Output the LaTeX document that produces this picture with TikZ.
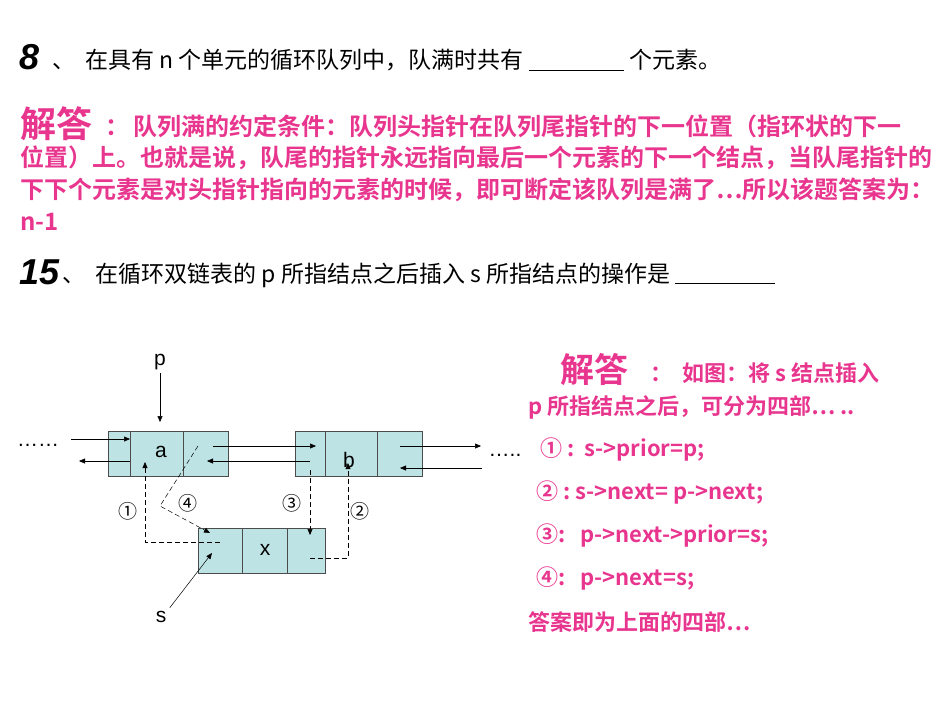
\documentclass[tikz,border=0pt]{standalone}
\usepackage{fontspec}
\setmainfont{Liberation Sans}
\newfontfamily\cjk{Noto Sans CJK SC}
\newfontfamily\cjkb{Noto Sans CJK SC Bold}
\usetikzlibrary{arrows.meta}
\definecolor{pk}{HTML}{E8358E}
\definecolor{cell}{HTML}{BEE3E5}
\begin{document}
\begin{tikzpicture}[x=1pt,y=-1pt,
  box/.style={draw=black!70,fill=cell,line width=0.8pt},
  ptr/.style={-{Triangle[length=6pt,width=5pt]},line width=0.5pt},
  dptr/.style={ptr,dashed,dash pattern=on 5pt off 3pt},
  lab/.style={font=\fontsize{21}{21}\selectfont},
  circ/.style={font=\cjk\fontsize{19}{19}\selectfont},
  q/.style={anchor=west,inner sep=0pt,font=\cjk\fontsize{23}{23}\selectfont},
  ans/.style={anchor=west,inner sep=0pt,text=pk,font=\cjkb\fontsize{24}{24}\selectfont},
  ra/.style={anchor=west,inner sep=0pt,text=pk,font=\cjkb\fontsize{22}{22}\selectfont},
  big/.style={anchor=west,font=\fontsize{36}{36}\selectfont\bfseries\itshape}]
\useasboundingbox (0,0) rectangle (950,713);
% top texts
\node[big] (n8) at (16,57) {8};
\node[q] (q8) at (52,60) {、\ \ 在具有 n 个单元的循环队列中，队满时共有 \underline{\hspace{95pt}} 个元素。};
\node[anchor=west,inner sep=0pt,text=pk,font=\cjkb\fontsize{36}{36}\selectfont\itshape] (j1) at (20,124) {解答};
\node[ans] (a0) at (105,126) {：\,队列满的约定条件：队列头指针在队列尾指针的下一位置（指环状的下一};
\node[ans] (a1) at (20,158) {位置）上。也就是说，队尾的指针永远指向最后一个元素的下一个结点，当队尾指针的};
\node[ans] (a2) at (20,190) {下下个元素是对头指针指向的元素的时候，即可断定该队列是满了…所以该题答案为：};
\node[ans] (a3) at (20,222) {n-1};
\node[big] (n15) at (16,272) {15};
\node[q] (q15) at (62,275) {、\ \ 在循环双链表的 p 所指结点之后插入 s 所指结点的操作是 \underline{\hspace{100pt}}};
% right answer
\node[anchor=west,inner sep=0pt,text=pk,font=\cjkb\fontsize{34}{34}\selectfont\itshape] (j2) at (560,370) {解答};
\node[ra] (r0) at (650,373) {：\ \ 如图：将 s 结点插入};
\node[ra] (r1) at (528,407) {p 所指结点之后，可分为四部… ..};
\node[ra] (r2) at (540,449) {① :\ \ s->prior=p;};
\node[ra] (r3) at (536,492) {② :\ s->next= p->next;};
\node[ra] (r4) at (536,535) {③:\ \ \ p->next->prior=s;};
\node[ra] (r5) at (536,578) {④:\ \ \ p->next=s;};
\node[ra] (r6) at (528,622) {答案即为上面的四部…};
% boxes
\draw[box] (108,431) rectangle (228,476); \draw[black!70,line width=0.8pt] (130,431)--(130,476) (183,431)--(183,476);
\draw[box] (295,431) rectangle (422,476); \draw[black!70,line width=0.8pt] (325,431)--(325,476) (377,431)--(377,476);
\draw[box] (198,528) rectangle (325,573); \draw[black!70,line width=0.8pt] (242,528)--(242,573) (287,528)--(287,573);
\node[lab] (la) at (161,452) {a};
\node[lab] (lb) at (349,460) {b};
\node[lab] (lx) at (265,550) {x};
\node[lab] (p) at (160,362) {p};
\node[lab] (s) at (161,617) {s};
\node[lab] (dl) at (38,445) {……};
\node[lab] (dr) at (505,455) {…..};
\coordinate (pt) at (160,422);
\draw[ptr] (p.south) -- (pt);
\coordinate (l1) at (71,439); \coordinate (l2) at (130,439);
\draw[ptr] (l1) -- (l2);
\coordinate (l3) at (130,461); \coordinate (l4) at (79,461);
\draw[ptr] (l3) -- (l4);
\coordinate (an) at (213,446); \coordinate (bp) at (316,446);
\draw[ptr] (an) -- (bp);
\coordinate (bq) at (310,461); \coordinate (aq) at (207,461);
\draw[ptr] (bq) -- (aq);
\coordinate (bn) at (400,446); \coordinate (bn2) at (481,446);
\draw[ptr] (bn) -- (bn2);
\coordinate (r1a) at (482,468); \coordinate (r1b) at (400,468);
\draw[ptr] (r1a) -- (r1b);
\coordinate (sx) at (212,553);
\draw[ptr] (s.north east) -- (sx);
% dashed
\draw[dptr] (220,542) -- (145,542) -- (145,462);
\draw[dptr] (198,446) -- (160,506) -- (210,533);
\draw[dptr] (310,470) -- (310,535);
\draw[dptr] (310,558) -- (348,558) -- (348,463);
\node[circ] (c1) at (128,511) {①};
\node[circ] (c4) at (188,503) {④};
\node[circ] (c3) at (292,503) {③};
\node[circ] (c2) at (360,511) {②};
\end{tikzpicture}
\end{document}
